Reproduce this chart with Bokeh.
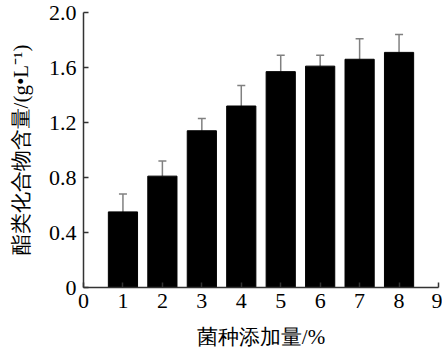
from bokeh.plotting import figure
from bokeh.models import ColumnDataSource, Whisker, TeeHead, FixedTicker, Range1d
from bokeh.embed import file_html
from bokeh.resources import INLINE

doses = [1, 2, 3, 4, 5, 6, 7, 8]
esters = [0.55, 0.81, 1.14, 1.32, 1.57, 1.61, 1.66, 1.71]
errors = [0.13, 0.11, 0.09, 0.15, 0.12, 0.08, 0.15, 0.13]
x_ticks = [0, 1, 2, 3, 4, 5, 6, 7, 8, 9]
y_ticks = [0, 0.4, 0.8, 1.2, 1.6, 2.0]
y_labels = {0: "0", 0.4: "0.4", 0.8: "0.8", 1.2: "1.2", 1.6: "1.6", 2.0: "2.0"}

FONT = "Liberation Serif, serif"

src = ColumnDataSource(dict(
    x=doses, top=esters,
    upper=[t + e for t, e in zip(esters, errors)],
))

p = figure(width=442, height=352, output_backend="svg", toolbar_location=None,
           x_range=Range1d(0, 9), y_range=Range1d(0, 2.0),
           min_border_left=83, min_border_right=4, min_border_top=12,
           min_border_bottom=65)
p.outline_line_color = None
p.xgrid.visible = False
p.ygrid.visible = False
p.background_fill_color = "white"
p.border_fill_color = "white"

p.vbar(x="x", top="top", bottom=0, width=0.74, source=src,
       fill_color="black", line_color="black")

w = Whisker(base="x", lower="top", upper="upper", source=src,
            line_color="#808080", line_width=1.5,
            upper_head=TeeHead(size=8, line_color="#808080", line_width=1.5),
            lower_head=None)
p.add_layout(w)

for ax in (p.xaxis[0], p.yaxis[0]):
    ax.axis_line_color = "#333333"
    ax.axis_line_width = 1.5
    ax.major_tick_line_color = "#333333"
    ax.major_tick_line_width = 1.5
    ax.major_tick_in = 5
    ax.major_tick_out = 0
    ax.minor_tick_line_color = None
    ax.major_label_text_font = FONT
    ax.major_label_text_font_size = "22px"
    ax.major_label_text_color = "black"
    ax.axis_label_text_font = FONT
    ax.axis_label_text_font_size = "21px"
    ax.axis_label_text_font_style = "normal"
    ax.axis_label_text_color = "black"

p.xaxis.ticker = FixedTicker(ticks=x_ticks)
p.yaxis.ticker = FixedTicker(ticks=y_ticks)
p.yaxis.major_label_overrides = y_labels
p.xaxis.major_label_standoff = 6
p.yaxis.major_label_standoff = 7
p.xaxis.axis_label = "菌种添加量/%"
p.yaxis.axis_label = "酯类化合物含量/(g•L⁻¹)"
p.xaxis.axis_label_standoff = 14
p.yaxis.axis_label_standoff = 13

open("out.html", "w").write(file_html(p, INLINE))
